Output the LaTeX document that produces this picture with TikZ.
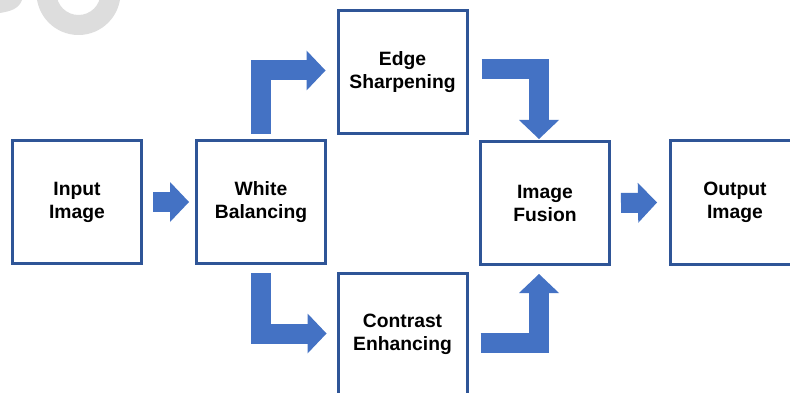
\documentclass[tikz,border=0pt]{standalone}
\usepackage{fontspec}
\setmainfont{Liberation Sans}
\usepackage{tikz}
\usetikzlibrary{arrows.meta}
\definecolor{boxblue}{HTML}{2F5597}
\definecolor{arrowblue}{HTML}{4472C4}
\definecolor{markgray}{HTML}{DDDDDD}
\tikzset{block/.style = {shape = rectangle, draw = boxblue, line width = 3pt, fill = white, minimum width = 129pt, minimum height = 123pt, align = center, font = \fontsize{19.3}{23}\selectfont\bfseries}}
\tikzset{flow/.style = {draw = arrowblue, line width = 20pt, -{Triangle[length = 19pt, width = 40pt, line width = 0pt]}}}

\begin{document}
\begin{tikzpicture}[x = 1pt, y = -1pt]
				\clip (0, 0) rectangle (790, 393);
				\fill[white] (0, 0) rectangle (790, 393);

				% faded mark in the corner
				\fill[markgray, even odd rule] (78.5, -7) circle (42) (78.5, -7) circle (22);
				\fill[markgray] (0, 0) -- (22, 0) to[out = -110, in = 10] (0, 13) -- cycle;

				\node[block] (a) at (77, 202) {Input\\Image};
				\node[block] (b) at (261, 202) {White\\Balancing};
				\node[block] (c) at (402.5, 72.5) {Edge\\Sharpening};
				\node[block] (d) at (402.5, 334.5) {Contrast\\Enhancing};
				\node[block] (e) at (545, 203) {Image\\Fusion};
				\node[block] (f) at (735, 202.5) {Output\\Image};

				\draw[flow] ([xshift = 10pt]a.east) to ([xshift = -6pt]b.west);
				\draw[flow] ([yshift = 5pt]b.north) |- ([xshift = -11pt, yshift = 2pt]c.west);
				\draw[flow] ([yshift = -8pt]b.south) |- ([xshift = -10pt, yshift = 1pt]d.west);
				\draw[flow] ([xshift = 13pt, yshift = 3pt]c.east) -| ([xshift = -6pt, yshift = 1pt]e.north);
				\draw[flow] ([xshift = 12pt, yshift = -8pt]d.east) -| ([xshift = -6pt, yshift = -8pt]e.south);
				\draw[flow] ([xshift = 10pt]e.east) to ([xshift = -12pt]f.west);
			\end{tikzpicture}
\end{document}
